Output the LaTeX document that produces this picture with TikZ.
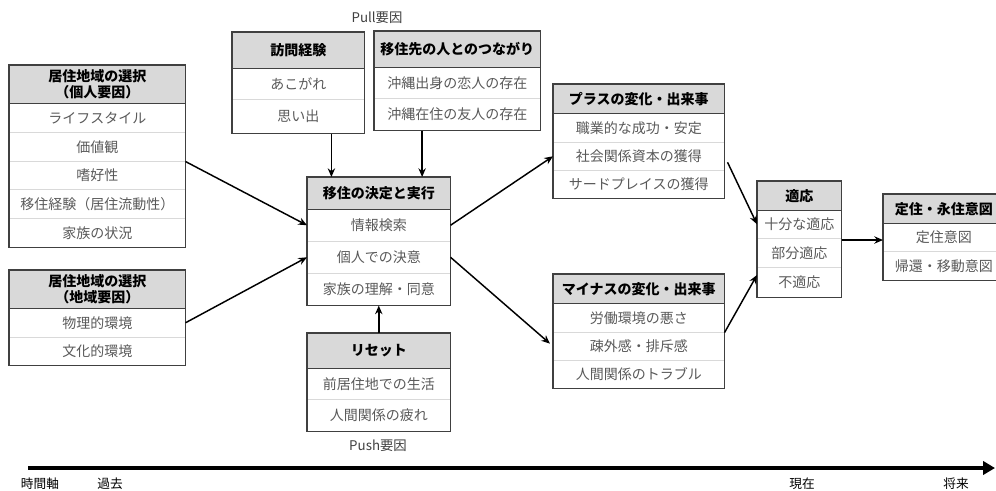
\documentclass[tikz,border=0pt]{standalone}
\usepackage{fontspec}
\setmainfont{Noto Sans CJK JP}
\usetikzlibrary{arrows.meta,calc}
\definecolor{hdrfill}{HTML}{D9D9D9}
\definecolor{itemtext}{HTML}{595959}
\definecolor{framecol}{HTML}{404040}
\definecolor{sepcol}{HTML}{D9D9D9}
\newcommand\jhead[6]{\node[hdr, minimum width={(#3-#2)*0.75pt}, minimum height={(#5-#4)*0.75pt}] (#1) at (#2,#4) {#6};}
\newcommand\jrow[6]{\node[itemrow, minimum width={(#3-#2)*0.75pt}, minimum height={(#5-#4)*0.75pt}] (#1) at (#2,#4) {#6};}
\newcommand\jsep[1]{\draw[sepline] (#1.south west) -- (#1.south east);}
\newcommand\jframe[2]{\draw[frame] (#1.north west) rectangle (#2.south east); \draw[frame] (#1.south west) -- (#1.south east);}
\begin{document}
\begin{tikzpicture}[x=0.75pt,y=-0.75pt,
  hdr/.style={fill=hdrfill, inner sep=0pt, anchor=north west, align=center, font=\bfseries\fontsize{10.5}{12.5}\selectfont, text=black},
  itemrow/.style={inner sep=0pt, anchor=north west, font=\fontsize{10.5}{12.5}\selectfont, text=itemtext},
  frame/.style={draw=framecol, line width=0.9pt},
  sepline/.style={draw=sepcol, line width=0.7pt},
  conn/.style={line width=1.1pt, -{Stealth[length=6.5pt,width=5.5pt]}},
  lbl/.style={font=\fontsize{10}{12}\selectfont, text=framecol, inner sep=0pt},
  tlbl/.style={font=\fontsize{9.5}{11}\selectfont, text=black, inner sep=0pt}]
\useasboundingbox (0,0) rectangle (996,490);
\clip (0,0) rectangle (996,490);

% Box 1: personal factors
\jhead{p0}{9}{185}{65}{103}{居住地域の選択\\（個人要因）}
\jrow{p1}{9}{185}{103}{132}{ライフスタイル}
\jrow{p2}{9}{185}{132}{161}{価値観}
\jrow{p3}{9}{185}{161}{189}{嗜好性}
\jrow{p4}{9}{185}{189}{218}{移住経験（居住流動性）}
\jrow{p5}{9}{185}{218}{247}{家族の状況}
\jsep{p1}\jsep{p2}\jsep{p3}\jsep{p4}
\jframe{p0}{p5}

% Box 2: regional factors
\jhead{r0}{9}{185}{270}{308}{居住地域の選択\\（地域要因）}
\jrow{r1}{9}{185}{308}{337}{物理的環境}
\jrow{r2}{9}{185}{337}{365}{文化的環境}
\jsep{r1}
\jframe{r0}{r2}

% Visit experience
\jhead{v0}{232}{364}{32}{68}{訪問経験}
\jrow{v1}{232}{364}{68}{99}{あこがれ}
\jrow{v2}{232}{364}{99}{133}{思い出}
\jsep{v1}
\jframe{v0}{v2}

% Connections
\jhead{w0}{374}{540}{31}{67}{移住先の人とのつながり}
\jrow{w1}{374}{540}{67}{98}{沖縄出身の恋人の存在}
\jrow{w2}{374}{540}{98}{130}{沖縄在住の友人の存在}
\jsep{w1}
\jframe{w0}{w2}

% Central
\jhead{c0}{307}{450}{177}{209}{移住の決定と実行}
\jrow{c1}{307}{450}{209}{241}{情報検索}
\jrow{c2}{307}{450}{241}{273}{個人での決意}
\jrow{c3}{307}{450}{273}{305}{家族の理解・同意}
\jsep{c1}\jsep{c2}
\jframe{c0}{c3}

% Reset
\jhead{e0}{307}{450}{333}{368}{リセット}
\jrow{e1}{307}{450}{368}{399}{前居住地での生活}
\jrow{e2}{307}{450}{399}{431}{人間関係の疲れ}
\jsep{e1}
\jframe{e0}{e2}

% Plus
\jhead{q0}{553}{724}{84}{113}{プラスの変化・出来事}
\jrow{q1}{553}{724}{113}{142}{職業的な成功・安定}
\jrow{q2}{553}{724}{142}{170}{社会関係資本の獲得}
\jrow{q3}{553}{724}{170}{198}{サードプレイスの獲得}
\jsep{q1}\jsep{q2}
\jframe{q0}{q3}

% Minus
\jhead{m0}{553}{724}{274}{303}{マイナスの変化・出来事}
\jrow{m1}{553}{724}{303}{332}{労働環境の悪さ}
\jrow{m2}{553}{724}{332}{360}{疎外感・排斥感}
\jrow{m3}{553}{724}{360}{388}{人間関係のトラブル}
\jsep{m1}\jsep{m2}
\jframe{m0}{m3}

% Adaptation
\jhead{t0}{757}{841}{181}{210}{適応}
\jrow{t1}{757}{841}{210}{238}{十分な適応}
\jrow{t2}{757}{841}{238}{267}{部分適応}
\jrow{t3}{757}{841}{267}{297}{不適応}
\jsep{t1}\jsep{t2}
\jframe{t0}{t3}

% Settlement
\jhead{s0}{883}{1004}{194}{223}{定住・永住意図}
\jrow{s1}{883}{1004}{223}{251}{定住意図}
\jrow{s2}{883}{1004}{251}{280}{帰還・移動意図}
\jsep{s1}
\jframe{s0}{s2}

% Labels
\node[lbl] (pull) at (377,18) {Pull要因};
\node[lbl] (push) at (378,446) {Push要因};

% Connectors
\draw[conn] (p2.south east) -- (c1.west);
\draw[conn] (r1.east) -- (c2.west);
\coordinate (va) at ($(v2.south west)!0.75!(v2.south east)$);
\draw[conn] (va) -- (va |- c0.north);
\coordinate (wa) at ($(w2.south west)!0.289!(w2.south east)$);
\draw[conn] (wa) -- (wa |- c0.north);
\draw[conn] (e0.north) -- (c3.south);
\draw[conn] (c1.east) -- (q2.west);
\draw[conn, shorten >=3pt] (c2.east) -- (m2.west);
\draw[conn] ([shift={(3,6)}]q2.east) -- (t1.west);
\draw[conn] (m1.south east) -- ([shift={(0,8)}]t3.north west);
\coordinate (ta) at ([shift={(0,2)}]t2.north east);
\draw[conn] (ta) -- (ta -| s1.west);

% Timeline
\coordinate (tl0) at (28,468);
\coordinate (tl1) at (995,468);
\draw[line width=2.4pt, -{Triangle[length=9pt,width=10pt]}] (tl0) -- (tl1);
\node[tlbl] (k1) at (40,484) {時間軸};
\node[tlbl] (k2) at (110,484) {過去};
\node[tlbl] (k3) at (802,484) {現在};
\node[tlbl] (k4) at (956,484) {将来};
\end{tikzpicture}
\end{document}
